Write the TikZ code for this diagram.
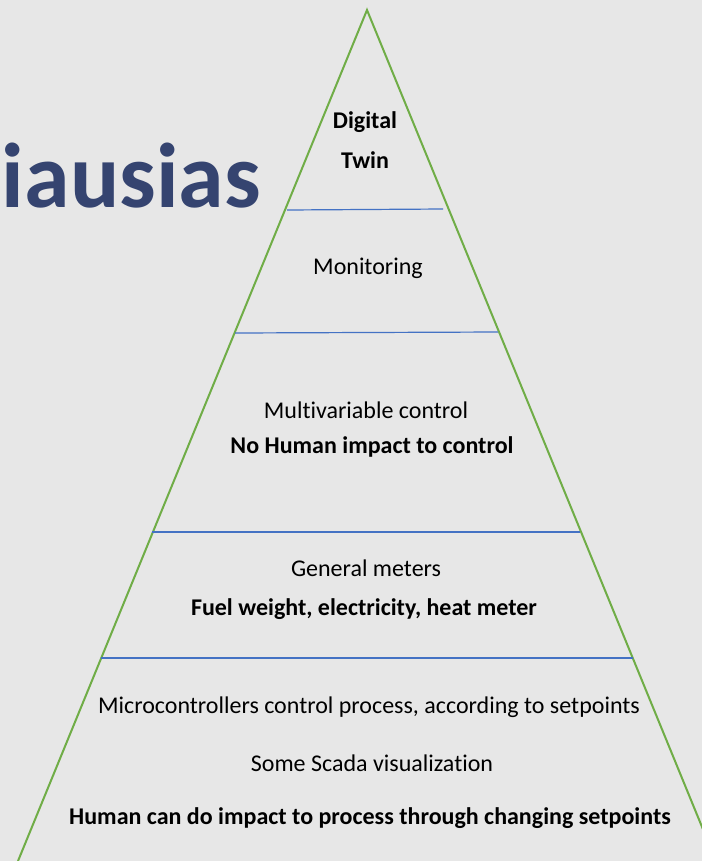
\documentclass[tikz,border=0pt]{standalone}
\usepackage{fontspec}
\setmainfont{Carlito}[Ligatures=NoCommon]
\usepackage{xcolor}
\definecolor{bgGray}{HTML}{E7E7E7}
\definecolor{pyrGreen}{HTML}{70AD47}
\definecolor{lvlBlue}{HTML}{4472C4}
\definecolor{titleNavy}{HTML}{354470}

\begin{document}
\begin{tikzpicture}[x=0.75pt,y=0.75pt,yscale=-1,xscale=1]
    \tikzset{lvltext/.style={anchor=center,inner sep=0.75pt,font=\fontsize{18}{22}\selectfont},
             lvlbold/.style={lvltext,font=\fontsize{18}{22}\selectfont\bfseries}}
    % background, sets diagram size 702 x 861
    \fill [bgGray] (0,0) rectangle (702,861);
    \useasboundingbox (0,0) rectangle (702,861);
    
    %Title text
    \draw (261,207) node [anchor=base east,inner sep=0pt,text=titleNavy,font=\fontsize{69}{73}\selectfont\bfseries] (title) {iausias};
    
    %Pyramid sides
    \draw [color=pyrGreen,line width=1.5] (18,861) -- (367,10) -- (716,861) ;
    
    %Level lines
    \draw [color=lvlBlue,line width=0.9] (287,210) -- (443,209) ;
    \draw [color=lvlBlue,line width=0.9] (235,333) -- (498,332) ;
    \draw [color=lvlBlue,line width=0.9] (152,532) -- (580,532) ;
    \draw [color=lvlBlue,line width=0.9] (101,658) -- (633,658) ;
    
    % Text Node
    \draw (365,140) node [lvlbold,align=center,font=\fontsize{18}{30}\selectfont\bfseries] (twin) {Digital\\Twin};
    % Text Node
    \draw (368,268) node [lvltext] (mon) {Monitoring};
    % Text Node
    \draw (366,410) node [lvltext] (multi) {Multivariable control};
    \draw (372,447) node [lvlbold] (nohuman) {No Human impact to control};
    % Text Node
    \draw (366,568) node [lvltext] (meters) {General meters};
    \draw (364,609) node [lvlbold] (fuel) {Fuel weight, electricity, heat meter};
    % Text Node
    \draw (369,707) node [lvltext] (micro) {Microcontrollers control process, according to setpoints};
    \draw (372,763) node [lvltext] (scada) {Some Scada visualization};
    \draw (370,818) node [lvlbold] (human) {Human can do impact to process through changing setpoints};
    
\end{tikzpicture}
\end{document}
